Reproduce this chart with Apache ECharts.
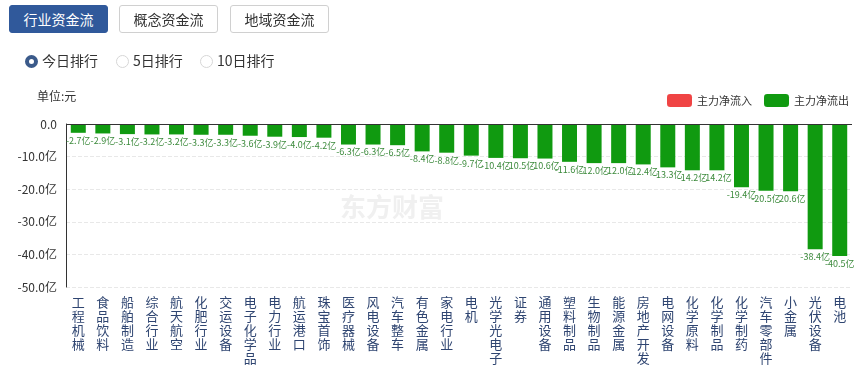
<!DOCTYPE html>
<html>
<head>
<meta charset="utf-8">
<script src="https://cdn.jsdelivr.net/npm/echarts@6/dist/echarts.min.js"></script>
<style>
html,body{margin:0;padding:0;background:#fff;font-family:"Noto Sans CJK SC","Microsoft YaHei",sans-serif;}
#wrap{position:relative;width:868px;height:365px;overflow:hidden;}
#chart{position:absolute;left:0;top:0;width:868px;height:365px;}
.btn{position:absolute;top:5px;height:28px;width:99px;box-sizing:border-box;border:1px solid #d0d0d0;border-radius:3px;font-size:14px;line-height:26px;text-align:center;color:#333;background:#fff;}
.btn.on{background:#30599b;border-color:#30599b;color:#fff;}
.radio{position:absolute;top:51px;font-size:14px;color:#333;line-height:18px;}
.radio i{display:inline-block;box-sizing:border-box;width:13px;height:13px;border-radius:50%;border:1px solid #d6d6d6;vertical-align:-2px;margin-right:4px;}
.radio.on i{border:4px solid #3b5a8a;}
</style>
</head>
<body>
<div id="wrap">
<div id="chart"></div>
<div class="btn on" style="left:9px">行业资金流</div>
<div class="btn" style="left:119px">概念资金流</div>
<div class="btn" style="left:230px">地域资金流</div>
<div class="radio on" style="left:25px"><i></i>今日排行</div>
<div class="radio" style="left:116px"><i></i>5日排行</div>
<div class="radio" style="left:200px"><i></i>10日排行</div>
</div>
<script>
var categories = ['工程机械','食品饮料','船舶制造','综合行业','航天航空','化肥行业','交运设备','电子化学品','电力行业','航运港口','珠宝首饰','医疗器械','风电设备','汽车整车','有色金属','家电行业','电机','光学光电子','证券','通用设备','塑料制品','生物制品','能源金属','房地产开发','电网设备','化学原料','化学制品','化学制药','汽车零部件','小金属','光伏设备','电池'];
var netOutflow = [-2.7,-2.9,-3.1,-3.2,-3.2,-3.3,-3.3,-3.6,-3.9,-4.0,-4.2,-6.3,-6.3,-6.5,-8.4,-8.8,-9.7,-10.4,-10.5,-10.6,-11.6,-12.0,-12.0,-12.4,-13.3,-14.2,-14.2,-19.4,-20.5,-20.6,-38.4,-40.5];
var netInflow = [];
var yTicks = {min:-50, max:0, interval:10};

var chart = echarts.init(document.getElementById('chart'), null, {renderer:'canvas'});
chart.setOption({
  animation:false,
  textStyle:{fontFamily:'"Noto Sans CJK SC", sans-serif'},
  graphic:[
    {type:'text', left:37, top:90, style:{text:'单位:元', fontSize:12, fill:'#333', fontFamily:'"Noto Sans CJK SC", sans-serif'}},
    {type:'text', left:340, top:194, z:-1, style:{text:'东方财富', fontSize:26, fontWeight:'bold', fill:'#f0f0f0', fontFamily:'"Noto Sans CJK SC", sans-serif'}}
  ],
  legend:{
    right:14, top:89, itemWidth:25, itemHeight:13, itemGap:12,
    textStyle:{fontSize:11, color:'#333'},
    data:[{name:'主力净流入', itemStyle:{color:'#f04444', borderRadius:3}},{name:'主力净流出', itemStyle:{color:'#109a10', borderRadius:3}}]
  },
  grid:{left:66, right:16, top:124, bottom:73},
  xAxis:{
    type:'category', data:categories,
    axisLine:{show:false}, axisTick:{show:false},
    axisLabel:{interval:0, margin:8, fontSize:13, lineHeight:14, color:'#2f4571',
      formatter:function(v){return v.split('').join('\n');}}
  },
  yAxis:{
    type:'value', min:yTicks.min, max:yTicks.max, interval:yTicks.interval,
    axisLine:{show:true, lineStyle:{color:'#333'}}, axisTick:{show:false},
    axisLabel:{margin:9, fontSize:12, color:'#333',
      formatter:function(v){return v===0?'0.0':v.toFixed(1)+'亿';}},
    splitLine:{show:true, lineStyle:{color:'#e8e8e8', type:'dashed'}}
  },
  series:[
    {name:'主力净流入', type:'bar', stack:'a', data:netInflow, itemStyle:{color:'#f04444'}},
    {name:'主力净流出', type:'bar', stack:'a', data:netOutflow, barWidth:15,
      itemStyle:{color:'#109a10'},
      label:{show:true, position:'bottom', distance:3, fontSize:9, color:'#3c8a3c',
        formatter:function(p){return p.value.toFixed(1)+'亿';}},
      markLine:{silent:true, symbol:'none', label:{show:false}, lineStyle:{color:'#333', type:'solid', width:1},
        data:[{yAxis:0}]}
    }
  ]
});
</script>
</body>
</html>
